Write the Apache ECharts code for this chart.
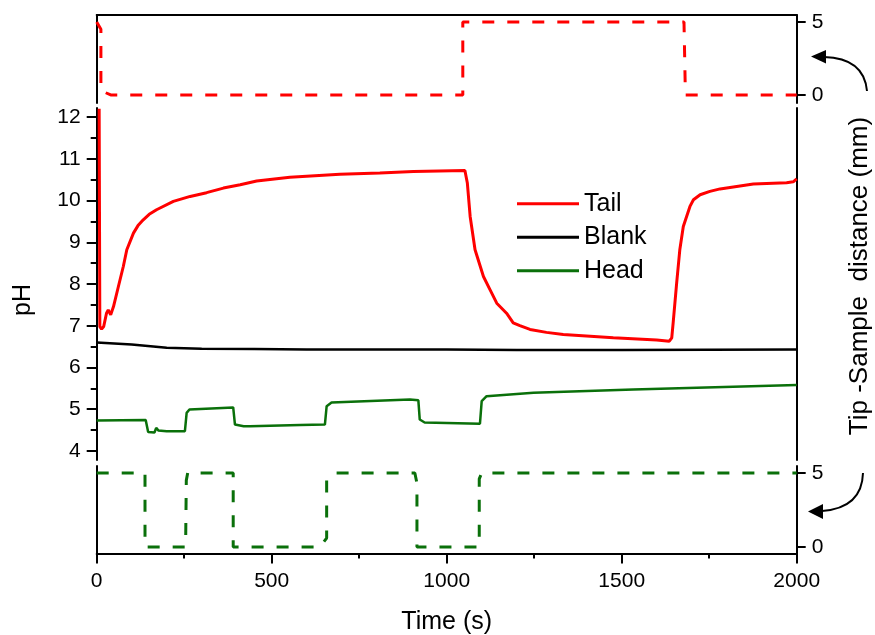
<!DOCTYPE html>
<html>
<head>
<meta charset="utf-8">
<script src="https://cdn.jsdelivr.net/npm/echarts@6/dist/echarts.min.js"></script>
<style>
  html, body { margin: 0; padding: 0; background: #fff; }
  #chart { width: 875px; height: 635px; }
</style>
</head>
<body>
<div id="chart"></div>
<script>
// pH curves (time in s, pH)
const tailT  = [7, 9, 14, 20, 28, 33, 40, 48, 62, 76, 86, 105, 118, 133, 150, 171, 219, 267, 314, 362, 410, 457, 552, 695, 809, 905, 1052, 1059, 1067, 1081, 1105, 1124, 1143, 1171, 1190, 1209, 1238, 1285, 1333, 1476, 1600, 1636, 1643, 1647, 1657, 1666, 1676, 1695, 1705, 1724, 1752, 1781, 1876, 1971, 1990, 2000];
const tailPH = [12.2, 6.98, 6.92, 6.98, 7.3, 7.38, 7.26, 7.46, 7.94, 8.42, 8.82, 9.22, 9.4, 9.54, 9.67, 9.78, 9.98, 10.1, 10.19, 10.3, 10.38, 10.47, 10.56, 10.63, 10.66, 10.7, 10.72, 10.42, 9.62, 8.82, 8.18, 7.86, 7.54, 7.3, 7.07, 7.0, 6.91, 6.84, 6.79, 6.71, 6.66, 6.63, 6.71, 7.07, 8.02, 8.82, 9.38, 9.86, 10.02, 10.14, 10.22, 10.28, 10.4, 10.43, 10.45, 10.52];

const blankT  = [0, 100, 200, 300, 450, 600, 1000, 1200, 1500, 2000];
const blankPH = [6.6, 6.55, 6.47, 6.45, 6.44, 6.43, 6.43, 6.42, 6.42, 6.43];

const headT  = [0, 140, 143, 147, 165, 170, 176, 200, 252, 257, 265, 390, 395, 420, 438, 581, 652, 657, 671, 895, 919, 923, 937, 1095, 1100, 1114, 1248, 1533, 2000];
const headPH = [4.73, 4.74, 4.75, 4.45, 4.44, 4.55, 4.49, 4.47, 4.47, 4.91, 4.99, 5.04, 4.63, 4.59, 4.59, 4.62, 4.63, 5.07, 5.16, 5.23, 5.21, 4.75, 4.68, 4.65, 5.19, 5.31, 5.39, 5.47, 5.58];

// tip-sample distance (mm)
const tailDistT = [0, 12, 12, 40, 1046, 1046, 1678, 1682, 2000];
const tailDist  = [5, 4.5, 0.3, 0, 0, 5, 5, 0, 0];
const headDistT = [0, 138, 138, 254, 256, 260, 390, 390, 638, 657, 657, 681, 909, 915, 915, 1093, 1093, 1100, 2000];
const headDist  = [5, 5, 0, 0, 4.5, 5, 5, 0, 0, 0.6, 4.5, 5, 5, 4.3, 0, 0, 4.6, 5, 5];

const phMajor = [4, 5, 6, 7, 8, 9, 10, 11, 12];
const phMinor = [4.5, 5.5, 6.5, 7.5, 8.5, 9.5, 10.5, 11.5];
const distTicks = [0, 5];

const RED = '#ff0000', GREEN = '#0a700a', BLACK = '#000000';
const FONT = '"Liberation Sans", Arial, sans-serif';

function zip(xs, ys) { return xs.map((x, i) => [x, ys[i]]); }

const line = { lineStyle: { color: BLACK, width: 2 }, onZero: false };
const noTick = { show: false };
const label = { color: BLACK, fontSize: 21, fontFamily: FONT };

const chart = echarts.init(document.getElementById('chart'));
chart.setOption({
  animation: false,
  grid: [
    { left: 96.7, right: 78.3, top: 15, height: 88, outerBoundsMode: 'none' },
    { left: 96.7, right: 78.3, top: 108, height: 352, outerBoundsMode: 'none' },
    { left: 96.7, right: 78.3, top: 466, height: 87.5, outerBoundsMode: 'none' }
  ],
  xAxis: [
    { gridIndex: 0, type: 'value', min: 0, max: 2000, position: 'top',
      axisLine: line, axisTick: noTick, axisLabel: { show: false }, splitLine: { show: false } },
    { gridIndex: 1, type: 'value', min: 0, max: 2000, show: false },
    { gridIndex: 2, type: 'value', min: 0, max: 2000, interval: 500, position: 'bottom',
      axisLine: line,
      axisTick: { show: true, length: 10, lineStyle: { color: BLACK, width: 2 } },
      minorTick: { show: true, splitNumber: 2, length: 5, lineStyle: { color: BLACK, width: 2 } },
      axisLabel: Object.assign({ margin: 17, formatter: v => String(v) }, label),
      splitLine: { show: false },
      name: 'Time (s)', nameLocation: 'middle', nameGap: 56,
      nameTextStyle: { color: BLACK, fontSize: 25, fontFamily: FONT } }
  ],
  yAxis: [
    // top panel
    { gridIndex: 0, type: 'value', min: -0.55, max: 5.48, position: 'left',
      axisLine: line, axisTick: noTick, axisLabel: { show: false }, splitLine: { show: false } },
    { gridIndex: 0, type: 'value', min: -0.55, max: 5.48, position: 'right',
      axisLine: line,
      axisTick: { show: true, length: 9, customValues: distTicks, lineStyle: { color: BLACK, width: 2 } },
      axisLabel: Object.assign({ margin: 15, customValues: distTicks }, label),
      splitLine: { show: false } },
    // middle panel (pH)
    { gridIndex: 1, type: 'value', min: 3.78, max: 12.22, position: 'left',
      axisLine: line,
      axisTick: { show: true, length: 10, customValues: phMajor, lineStyle: { color: BLACK, width: 2 } },
      axisLabel: Object.assign({ margin: 16, customValues: phMajor }, label),
      splitLine: { show: false } },
    { gridIndex: 1, type: 'value', min: 3.78, max: 12.22, position: 'left',
      axisLine: { show: false, onZero: false },
      axisTick: { show: true, length: 6, customValues: phMinor, lineStyle: { color: BLACK, width: 2 } },
      axisLabel: { show: false }, splitLine: { show: false } },
    { gridIndex: 1, type: 'value', min: 3.78, max: 12.22, position: 'right',
      axisLine: line, axisTick: noTick, axisLabel: { show: false }, splitLine: { show: false } },
    // bottom panel
    { gridIndex: 2, type: 'value', min: -0.44, max: 5.47, position: 'left',
      axisLine: line, axisTick: noTick, axisLabel: { show: false }, splitLine: { show: false } },
    { gridIndex: 2, type: 'value', min: -0.44, max: 5.47, position: 'right',
      axisLine: line,
      axisTick: { show: true, length: 9, customValues: distTicks, lineStyle: { color: BLACK, width: 2 } },
      axisLabel: Object.assign({ margin: 15, customValues: distTicks }, label),
      splitLine: { show: false } }
  ],
  legend: {
    data: ['Tail', 'Blank', 'Head'],
    orient: 'vertical', left: 512, top: 182,
    icon: 'rect', itemWidth: 62, itemHeight: 3, itemGap: 0,
    textStyle: { color: BLACK, fontSize: 25, fontFamily: FONT, lineHeight: 33.5 }
  },
  series: [
    { name: 'Tail', type: 'line', xAxisIndex: 1, yAxisIndex: 2, data: zip(tailT, tailPH),
      showSymbol: false, lineStyle: { color: RED, width: 3 }, itemStyle: { color: RED } },
    { name: 'Blank', type: 'line', xAxisIndex: 1, yAxisIndex: 2, data: zip(blankT, blankPH),
      showSymbol: false, lineStyle: { color: BLACK, width: 2.5 }, itemStyle: { color: BLACK } },
    { name: 'Head', type: 'line', xAxisIndex: 1, yAxisIndex: 2, data: zip(headT, headPH),
      showSymbol: false, lineStyle: { color: GREEN, width: 2.5 }, itemStyle: { color: GREEN } },
    { name: 'Tail distance', type: 'line', xAxisIndex: 0, yAxisIndex: 1, data: zip(tailDistT, tailDist),
      showSymbol: false, lineStyle: { color: RED, width: 3, type: [12, 13] } },
    { name: 'Head distance', type: 'line', xAxisIndex: 2, yAxisIndex: 6, data: zip(headDistT, headDist),
      showSymbol: false, lineStyle: { color: GREEN, width: 3, type: [12, 13] } }
  ],
  graphic: [
    { type: 'text', x: 23, y: 300, rotation: Math.PI / 2,
      style: { text: 'pH', fill: BLACK, fontSize: 25, fontFamily: FONT, align: 'center', verticalAlign: 'middle' } },
    { type: 'text', x: 860, y: 276, rotation: Math.PI / 2,
      style: { text: 'Tip -Sample  distance (mm)', fill: BLACK, fontSize: 26, fontFamily: FONT, align: 'center', verticalAlign: 'middle' } },
    // curved arrows pointing at the distance axes
    { type: 'bezierCurve', shape: { x1: 867, y1: 91, cpx1: 864, cpy1: 58, x2: 824, y2: 57 },
      style: { stroke: BLACK, lineWidth: 2, fill: null } },
    { type: 'polygon', shape: { points: [[811, 56.5], [826, 50], [826, 63.5]] }, style: { fill: BLACK } },
    { type: 'bezierCurve', shape: { x1: 863, y1: 473, cpx1: 862, cpy1: 508, x2: 822, y2: 511 },
      style: { stroke: BLACK, lineWidth: 2, fill: null } },
    { type: 'polygon', shape: { points: [[808, 511.5], [823, 504], [823, 519]] }, style: { fill: BLACK } }
  ]
});
</script>
</body>
</html>
